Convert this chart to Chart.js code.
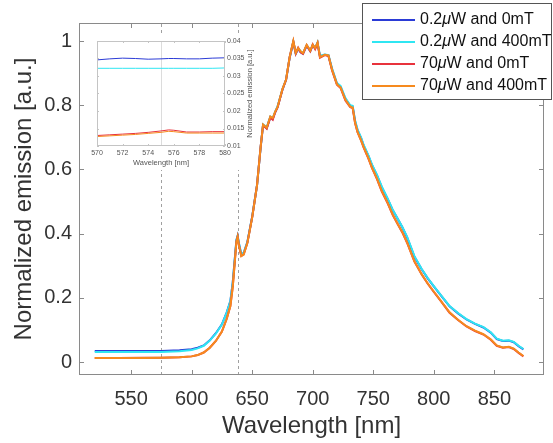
<!DOCTYPE html>
<html>
<head>
<meta charset="utf-8">
<script src="https://cdn.jsdelivr.net/npm/chart.js@4/dist/chart.umd.min.js"></script>
<style>
  body { margin: 0; background: #fff; }
  #wrap { position: relative; width: 553px; height: 443px; }
  #inset { position: absolute; left: 84px; top: 33px; background: #fff; }
  #legend { position: absolute; left: 362px; top: 3px; width: 188px; height: 95px; border: 1px solid #555; background: #fff;
            font-family: 'Liberation Sans', Arial, sans-serif; font-size: 16px; color: #111; }
  #legend .row { position: absolute; left: 0; height: 22px; line-height: 22px; white-space: nowrap; }
  #legend .ln { display: inline-block; width: 43px; height: 2px; margin-left: 9px; margin-right: 5px; vertical-align: middle; }
</style>
</head>
<body>
<div id="wrap">
  <canvas id="mainChart" width="553" height="443"></canvas>
  <canvas id="inset" width="172" height="137"></canvas>
  <div id="legend"></div>
</div>
<script>
// wavelength grid of the main plot (nm)
const wavelength = [520,540,560,575,590,600,605,610,615,620,625,629,632,634,635.5,637,638,639,641,643,
  646,650,654,657,659,662,665,667,669,671,675,678,681,684,686,688,690,692,695,698,
  700,702,704,706,710,713,716,720,723,727,731,733,735,737,740,742,746,749,753,757,
  762,766,770,774,778,784,790,795,800,806,813,820,827,834,841,847,852,857,862,866,870,874];

const lowP0mT = [0.035,0.035,0.035,0.035,0.037,0.040,0.045,0.052,0.068,0.090,0.118,0.155,0.190,0.250,0.315,0.380,0.393,0.370,0.335,0.340,
  0.373,0.452,0.550,0.668,0.738,0.728,0.762,0.757,0.778,0.795,0.848,0.879,0.948,0.996,0.960,0.975,0.965,0.960,0.985,0.968,
  0.986,0.977,0.993,0.952,0.957,0.955,0.912,0.867,0.857,0.820,0.798,0.796,0.750,0.722,0.697,0.675,0.642,0.613,0.582,0.545,
  0.507,0.474,0.447,0.420,0.388,0.328,0.289,0.261,0.236,0.207,0.174,0.152,0.133,0.119,0.108,0.092,0.072,0.066,0.067,0.062,0.050,0.040];

const lowP400mT = [0.032,0.032,0.032,0.032,0.034,0.038,0.043,0.051,0.067,0.089,0.117,0.154,0.190,0.249,0.316,0.381,0.394,0.372,0.337,0.341,
  0.374,0.453,0.551,0.670,0.740,0.731,0.765,0.760,0.780,0.797,0.850,0.880,0.950,0.998,0.962,0.977,0.968,0.963,0.987,0.970,
  0.988,0.979,0.996,0.954,0.958,0.956,0.914,0.869,0.860,0.822,0.800,0.798,0.752,0.724,0.699,0.677,0.644,0.615,0.584,0.547,
  0.509,0.475,0.448,0.421,0.390,0.330,0.290,0.262,0.237,0.208,0.175,0.153,0.134,0.120,0.109,0.093,0.073,0.067,0.068,0.063,0.051,0.041];

const highP0mT = [0.013,0.013,0.014,0.014,0.015,0.018,0.022,0.030,0.045,0.066,0.095,0.135,0.175,0.236,0.306,0.376,0.391,0.366,0.331,0.336,
  0.371,0.451,0.551,0.671,0.738,0.727,0.762,0.755,0.778,0.793,0.849,0.879,0.951,0.999,0.961,0.979,0.965,0.960,0.987,0.968,
  0.989,0.975,0.994,0.948,0.956,0.953,0.908,0.864,0.854,0.815,0.794,0.791,0.744,0.716,0.690,0.669,0.634,0.604,0.571,0.532,
  0.494,0.459,0.431,0.404,0.371,0.313,0.273,0.244,0.219,0.189,0.154,0.131,0.111,0.097,0.086,0.070,0.051,0.045,0.047,0.041,0.029,0.018];

const highP400mT = [0.013,0.013,0.013,0.014,0.015,0.018,0.022,0.030,0.045,0.066,0.095,0.135,0.175,0.235,0.305,0.375,0.390,0.365,0.330,0.335,
  0.370,0.450,0.550,0.670,0.740,0.730,0.765,0.760,0.780,0.795,0.850,0.880,0.950,1.000,0.963,0.978,0.968,0.962,0.988,0.970,
  0.988,0.978,0.995,0.950,0.957,0.955,0.910,0.865,0.855,0.817,0.795,0.793,0.745,0.717,0.690,0.670,0.635,0.605,0.572,0.533,
  0.495,0.460,0.432,0.405,0.372,0.314,0.274,0.245,0.220,0.190,0.155,0.132,0.112,0.098,0.087,0.071,0.052,0.046,0.048,0.042,0.030,0.019];

// zoomed window 570-580 nm (inset)
const insetWavelength = [570,571,572,573,574,575,575.6,576,577,578,579,580];
const insetLowP0mT    = [0.0346,0.0349,0.0351,0.0350,0.0348,0.0349,0.0350,0.0350,0.0349,0.0349,0.0351,0.0352];
const insetLowP400mT  = [0.0322,0.0322,0.0322,0.0322,0.0322,0.0322,0.0322,0.0322,0.0322,0.0322,0.0322,0.0323];
const insetHighP0mT   = [0.0130,0.0132,0.0134,0.0136,0.0139,0.0143,0.0146,0.0145,0.0140,0.0140,0.0141,0.0141];
const insetHighP400mT = [0.0127,0.0129,0.0131,0.0133,0.0136,0.0139,0.0142,0.0141,0.0137,0.0137,0.0137,0.0137];

const seriesLabels = ['0.2\u03bcW and 0mT', '0.2\u03bcW and 400mT', '70\u03bcW and 0mT', '70\u03bcW and 400mT'];
const seriesColors = ['#2b3bd6', '#2fe6f2', '#e8323c', '#f68a1e'];

const xTicks = [550, 600, 650, 700, 750, 800, 850];
const yTicks = [0, 0.2, 0.4, 0.6, 0.8, 1];
const markerLines = [575, 638];

const insetXTicks = [570, 572, 574, 576, 578, 580];
const insetYTicks = [0.01, 0.015, 0.02, 0.025, 0.03, 0.035, 0.04];

Chart.defaults.font.family = "'Liberation Sans', Arial, sans-serif";
Chart.defaults.color = '#333';

const toPoints = (xs, ys) => xs.map((x, i) => ({ x: x, y: ys[i] }));

// box with ticks pointing inward on all four sides
const frameTicks = {
  id: 'frameTicks',
  afterDatasetsDraw(chart, args, opts) {
    const { ctx, chartArea: a, scales } = chart;
    const x = scales.x, y = scales.y;
    ctx.save();
    ctx.strokeStyle = opts.color;
    ctx.lineWidth = 1;
    ctx.strokeRect(a.left + 0.5, a.top + 0.5, a.right - a.left - 1, a.bottom - a.top - 1);
    ctx.beginPath();
    x.ticks.forEach(t => {
      const px = Math.round(x.getPixelForValue(t.value)) + 0.5;
      ctx.moveTo(px, a.bottom); ctx.lineTo(px, a.bottom - opts.len);
      ctx.moveTo(px, a.top); ctx.lineTo(px, a.top + opts.len);
    });
    y.ticks.forEach(t => {
      const py = Math.round(y.getPixelForValue(t.value)) + 0.5;
      ctx.moveTo(a.left, py); ctx.lineTo(a.left + opts.len, py);
      ctx.moveTo(a.right, py); ctx.lineTo(a.right - opts.len, py);
    });
    ctx.stroke();
    ctx.restore();
  }
};

// vertical reference lines
const vLines = {
  id: 'vLines',
  beforeDatasetsDraw(chart, args, opts) {
    const { ctx, chartArea: a, scales: { x } } = chart;
    ctx.save();
    ctx.strokeStyle = opts.color;
    ctx.lineWidth = 1;
    ctx.setLineDash(opts.dash);
    opts.values.forEach(v => {
      const px = Math.round(x.getPixelForValue(v)) + 0.5;
      ctx.beginPath(); ctx.moveTo(px, a.bottom); ctx.lineTo(px, a.top); ctx.stroke();
    });
    ctx.restore();
  }
};

const mainSeries = [lowP0mT, lowP400mT, highP0mT, highP400mT];

new Chart(document.getElementById('mainChart'), {
  type: 'line',
  data: {
    datasets: mainSeries.map((s, i) => ({
      label: seriesLabels[i],
      data: toPoints(wavelength, s),
      borderColor: seriesColors[i],
      borderWidth: 2,
      pointRadius: 0,
      tension: 0,
      order: 3 - i   // later series drawn on top
    }))
  },
  options: {
    responsive: false,
    animation: false,
    devicePixelRatio: 1,
    layout: { padding: { left: 0, right: 9, top: 23, bottom: 0 } },
    plugins: {
      legend: { display: false },
      tooltip: { enabled: false },
      frameTicks: { color: '#8a8a8a', len: 5 },
      vLines: { values: markerLines, color: '#a0a0a0', dash: [3, 3] }
    },
    scales: {
      x: {
        type: 'linear', min: 507, max: 891,
        grid: { display: false, drawTicks: false }, border: { display: false },
        afterBuildTicks: s => { s.ticks = xTicks.map(v => ({ value: v })); },
        afterFit: s => { s.height = 68; },
        ticks: { font: { size: 20 }, color: '#333', padding: 12, maxRotation: 0, callback: v => String(v) },
        title: { display: true, text: 'Wavelength [nm]', font: { size: 24 }, color: '#333', padding: { top: 0, bottom: 2 } }
      },
      y: {
        min: -0.04, max: 1.056,
        grid: { display: false, drawTicks: false }, border: { display: false },
        afterBuildTicks: s => { s.ticks = yTicks.map(v => ({ value: v })); },
        afterFit: s => { s.width = 79; },
        ticks: { font: { size: 20 }, color: '#333', padding: 7, callback: v => String(v) },
        title: { display: true, text: 'Normalized emission [a.u.]', font: { size: 24 }, color: '#333', padding: { top: 10, bottom: 0 } }
      }
    }
  },
  plugins: [vLines, frameTicks]
});

// rotated title for the inset's right axis, reading bottom to top
const insetYTitle = {
  id: 'insetYTitle',
  afterDraw(chart, args, opts) {
    const { ctx, chartArea: a } = chart;
    ctx.save();
    ctx.translate(opts.x, (a.top + a.bottom) / 2);
    ctx.rotate(-Math.PI / 2);
    ctx.font = "7.5px 'Liberation Sans', Arial, sans-serif";
    ctx.fillStyle = '#555';
    ctx.textAlign = 'center';
    ctx.textBaseline = 'middle';
    ctx.fillText(opts.text, 0, 0);
    ctx.restore();
  }
};

const insetSeries = [insetLowP0mT, insetLowP400mT, insetHighP0mT, insetHighP400mT];

new Chart(document.getElementById('inset'), {
  type: 'line',
  data: {
    datasets: insetSeries.map((s, i) => ({
      label: seriesLabels[i],
      data: toPoints(insetWavelength, s),
      borderColor: seriesColors[i],
      borderWidth: 1,
      pointRadius: 0,
      tension: 0,
      order: 3 - i
    }))
  },
  options: {
    responsive: false,
    animation: false,
    devicePixelRatio: 1,
    layout: { padding: { left: 13, right: 0, top: 8, bottom: 0 } },
    plugins: {
      legend: { display: false },
      tooltip: { enabled: false },
      frameTicks: { color: '#c4c4c4', len: 2 },
      vLines: { values: [575], color: '#dcdcdc', dash: [] },
      insetYTitle: { x: 166, text: 'Normalized emission [a.u.]' }
    },
    scales: {
      x: {
        type: 'linear', min: 570, max: 580,
        grid: { display: false, drawTicks: false }, border: { display: false },
        afterBuildTicks: s => { s.ticks = insetXTicks.map(v => ({ value: v })); },
        afterFit: s => { s.height = 24; },
        ticks: { font: { size: 7 }, color: '#555', padding: 3, maxRotation: 0, callback: v => String(v) },
        title: { display: true, text: 'Wavelength [nm]', font: { size: 7.5 }, color: '#555', padding: { top: 0, bottom: 3 } }
      },
      y: {
        position: 'right', min: 0.01, max: 0.04,
        grid: { display: false, drawTicks: false }, border: { display: false },
        afterBuildTicks: s => { s.ticks = insetYTicks.map(v => ({ value: v })); },
        afterFit: s => { s.width = 31; },
        ticks: { font: { size: 7 }, color: '#555', padding: 2, callback: v => String(v) }
      }
    }
  },
  plugins: [vLines, frameTicks, insetYTitle]
});

// legend box in the upper right corner
const legendEl = document.getElementById('legend');
seriesLabels.forEach((lab, i) => {
  const row = document.createElement('div');
  row.className = 'row';
  row.style.top = (4 + 22 * i) + 'px';
  const ln = document.createElement('span');
  ln.className = 'ln';
  ln.style.background = seriesColors[i];
  const txt = document.createElement('span');
  txt.innerHTML = lab.replace('\u03bc', '<i>\u03bc</i>');
  row.appendChild(ln);
  row.appendChild(txt);
  legendEl.appendChild(row);
});
</script>
</body>
</html>
